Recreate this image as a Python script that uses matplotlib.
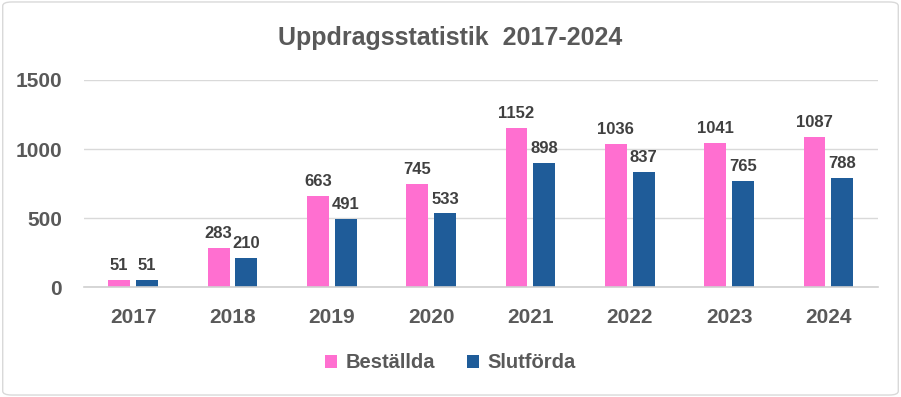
import numpy as np
import matplotlib.pyplot as plt
import matplotlib.patches as mpatches

# Data
YEARS      = ['2017', '2018', '2019', '2020', '2021', '2022', '2023', '2024']
BESTALLDA  = [51, 283, 663, 745, 1152, 1036, 1041, 1087]
SLUTFORDA  = [51, 210, 491, 533, 898, 837, 765, 788]
Y_TICKS    = [0, 500, 1000, 1500]

PINK  = '#FF6FD0'
BLUE  = '#1F5C99'
GREY  = '#595959'
FONT  = 'Liberation Sans'

plt.rcParams['font.family'] = [FONT, 'DejaVu Sans']

fig = plt.figure(figsize=(9.01, 3.97), dpi=100)
ax = fig.add_axes([0.0927, 0.277, 0.9745 - 0.0927, 0.7985 - 0.277])

x = np.arange(len(YEARS))
w = 0.22
off = 0.14
b1 = ax.bar(x - off, BESTALLDA, w, color=PINK, label='Beställda', zorder=2)
b2 = ax.bar(x + off, SLUTFORDA, w, color=BLUE, label='Slutförda', zorder=2)

for bars in (b1, b2):
    for r in bars:
        ax.annotate(f'{int(r.get_height())}',
                    (r.get_x() + r.get_width() / 2, r.get_height()),
                    xytext=(0, 5), textcoords='offset points',
                    ha='center', va='bottom', fontsize=12,
                    fontweight='bold', color='#404040')

ax.set_xlim(-0.5, len(YEARS) - 0.5)
ax.set_ylim(0, 1500)
ax.set_yticks(Y_TICKS)
ax.set_xticks(x)
ax.set_xticklabels(YEARS)
ax.tick_params(axis='both', length=0, labelsize=15, labelcolor=GREY)
ax.tick_params(axis='x', pad=15)
ax.tick_params(axis='y', pad=15.5)
for lbl in ax.get_xticklabels() + ax.get_yticklabels():
    lbl.set_fontweight('bold')

ax.grid(axis='y', color='#D9D9D9', linewidth=1, zorder=0)
for s in ('top', 'right', 'left'):
    ax.spines[s].set_visible(False)
ax.spines['bottom'].set_color('#D0D0D0')
ax.spines['bottom'].set_linewidth(1.2)

fig.text(0.5, 1 - 38 / 397, 'Uppdragsstatistik  2017-2024', ha='center',
         va='center', fontsize=18, fontweight='bold', color=GREY)

fig.legend(handles=[b1, b2], loc='center', bbox_to_anchor=(0.5, 1 - 363 / 397),
           ncol=2, frameon=False, prop={'weight': 'bold', 'size': 14.5},
           labelcolor=GREY, handlelength=0.6, handleheight=0.6,
           handletextpad=0.4, columnspacing=1.6)

fig.patches.append(mpatches.FancyBboxPatch(
    (0.003, 0.005), 0.994, 0.99, boxstyle='round,pad=0,rounding_size=0.01',
    transform=fig.transFigure, facecolor='none', edgecolor='#D9D9D9',
    linewidth=1))

fig.savefig('out.png', dpi=100, facecolor='white')
